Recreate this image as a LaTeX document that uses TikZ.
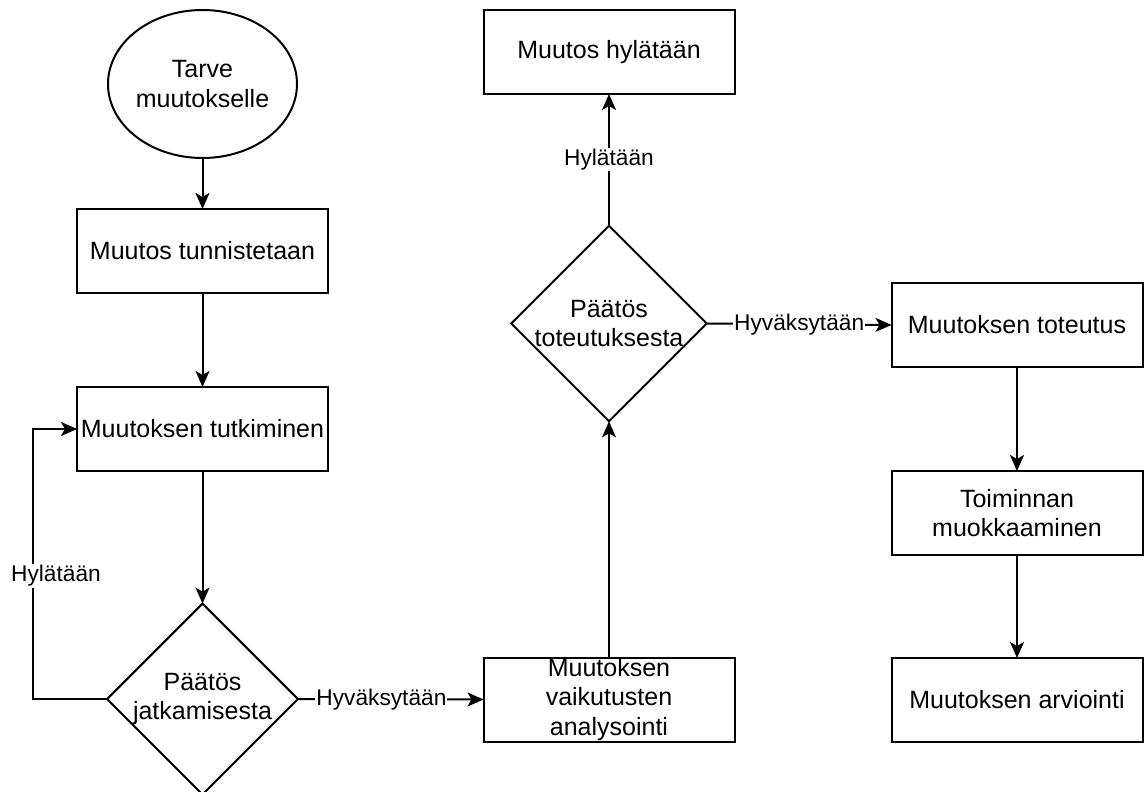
\documentclass[tikz,border=0pt]{standalone}
\usepackage{fontspec}
\setmainfont{Liberation Sans}
\usetikzlibrary{shapes.geometric,arrows.meta}
\begin{document}
\begin{tikzpicture}[x=1pt,y=-1pt,
  every node/.style={inner sep=0pt,outer sep=0pt},
  boxtext/.style={font=\fontsize{25}{29.5}\selectfont, align=center},
  pbox/.style={boxtext, draw, line width=2pt, rectangle, minimum width=251pt, minimum height=84pt},
  pell/.style={boxtext, draw, line width=2pt, ellipse, minimum width=189pt, minimum height=148pt},
  pdia/.style={boxtext, draw, line width=2pt, diamond, minimum width=189pt, minimum height=188pt},
  elabel/.style={font=\fontsize{22.7}{27}\selectfont, fill=white, inner sep=1pt},
  conn/.style={line width=2pt, -{Stealth[length=16pt,width=14pt,inset=4pt]}}
]
\useasboundingbox (0,0) rectangle (1144,792);
\node[pell] (ell) at (202.5,84) {Tarve\\muutokselle};
\node[pbox] (b1) at (202.5,251) {Muutos tunnistetaan};
\node[pbox] (b2) at (202.5,429) {Muutoksen tutkiminen};
\node[pdia] (d1) at (202.5,699) {Päätös\\jatkamisesta};
\node[pbox] (b3) at (609,699.5) {Muutoksen\\vaikutusten\\analysointi};
\node[pdia] (d2) at (609,323.5) {Päätös\\toteutuksesta};
\node[pbox] (b4) at (609,52) {Muutos hylätään};
\node[pbox] (b5) at (1017,325) {Muutoksen toteutus};
\node[pbox] (b6) at (1017,513) {Toiminnan\\muokkaaminen};
\node[pbox] (b7) at (1017,700) {Muutoksen arviointi};

\draw[conn] (ell) -- (b1);
\draw[conn] (b1) -- (b2);
\draw[conn] (b2) -- (d1);
\draw[conn] (d1.west) -- ++(-74,0) coordinate (lp) |- (b2.west);
\node[elabel] (l1) at (56,576) {Hylätään};
\draw[conn] (d1.east) -- node[elabel, pos=0.45] (l2) {Hyväksytään} (b3.west);
\draw[conn] (b3.north) -- (d2.south);
\draw[conn] (d2.north) -- node[elabel, midway] (l3) {Hylätään} (b4.south);
\draw[conn] (d2.east) -- node[elabel, midway] (l4) {Hyväksytään} (b5.west);
\draw[conn] (b5) -- (b6);
\draw[conn] (b6) -- (b7);
\end{tikzpicture}
\end{document}
